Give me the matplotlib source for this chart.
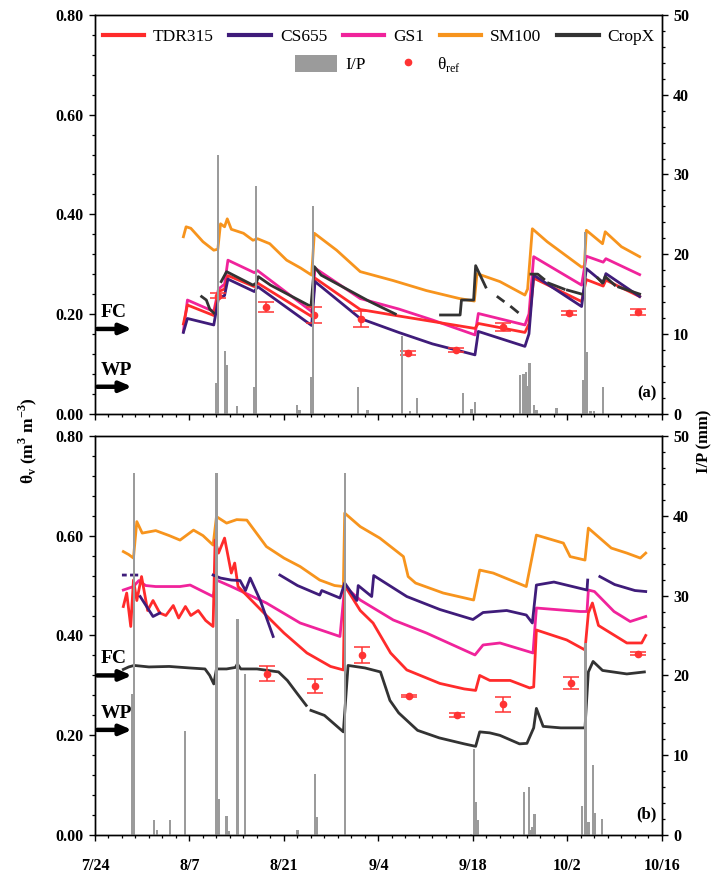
import numpy as np
import matplotlib
matplotlib.use("Agg")
import matplotlib.pyplot as plt
from matplotlib.ticker import MultipleLocator, FormatStrFormatter
from matplotlib.lines import Line2D
from matplotlib.patches import Patch

plt.rcParams["font.family"] = ["Liberation Serif", "DejaVu Serif"]

nan = np.nan

# x axis = days after 7/24
date_ticks = [0, 14, 28, 42, 56, 70, 84]
date_labels = ["7/24", "8/7", "8/21", "9/4", "9/18", "10/2", "10/16"]

# ── panel (a) ───────────────────────────────────────────────────────────────
sm100_a_day = [13.1, 13.5, 14.2, 16, 17.6, 18.2, 18.6, 19.2, 19.6, 20.2, 22, 23.4, 24.1,
               25.9, 28.4, 30.5, 32.1, 32.5, 35.8, 39.3, 44.2, 49.1, 54, 56.2, 56.6, 60,
               63.7, 64.1, 64.8, 67, 72.1, 72.5, 72.8, 75.2, 75.6, 78, 80.7]
sm100_a = [0.355, 0.375, 0.372, 0.345, 0.328, 0.33, 0.381, 0.375, 0.391, 0.37, 0.362, 0.348,
           0.351, 0.341, 0.308, 0.292, 0.278, 0.362, 0.328, 0.285, 0.267, 0.247, 0.231, 0.226,
           0.281, 0.265, 0.238, 0.25, 0.371, 0.345, 0.294, 0.296, 0.368, 0.341, 0.365, 0.335, 0.315]

sensor_a_day = [13.1, 13.7, 17.6, 18.3, 19.2, 19.7, 23.6, 24.1, 32.1, 32.6, 39.3, 45, 50,
                56.3, 56.8, 63.7, 64.3, 65, 72.1, 72.8, 75.3, 75.7, 80.7]
tdr_a = [0.18, 0.218, 0.197, 0.245, 0.25, 0.277, 0.255, 0.262, 0.195, 0.272, 0.209, 0.196,
         0.185, 0.171, 0.181, 0.163, 0.18, 0.272, 0.225, 0.269, 0.256, 0.268, 0.235]
gs1_a = [0.165, 0.228, 0.205, 0.25, 0.26, 0.308, 0.283, 0.287, 0.205, 0.292, 0.231, 0.21,
         0.188, 0.158, 0.201, 0.178, 0.2, 0.315, 0.258, 0.316, 0.304, 0.311, 0.279]
cs655_a = [0.163, 0.191, 0.178, 0.232, 0.237, 0.27, 0.245, 0.255, 0.177, 0.265, 0.191, 0.163,
           0.14, 0.118, 0.165, 0.135, 0.16, 0.278, 0.215, 0.291, 0.263, 0.281, 0.235]

cropx_a_day = [15.8, 16.5, 17.0, 17.6, nan, 18.7, 19.5, 23.4, 23.9, 24.2, 26, 32, 32.5, 33.5,
               40.7, 44.5, nan, 51.2, 54.1, 54.3, 56.1, 56.4, 57.9, nan, 59.7, 60.5, nan,
               61.7, 62.6, nan, 64.6, 65.6, 66.5, nan, 67.2, 69.5, nan, 70, 72.1, nan,
               74.5, 75.2, 75.6, 77, nan, 77.6, 80.7]
cropx_a = [0.235, 0.228, 0.21, 0.202, nan, 0.265, 0.285, 0.258, 0.262, 0.275, 0.258, 0.215,
           0.295, 0.278, 0.225, 0.2, nan, 0.198, 0.198, 0.228, 0.228, 0.297, 0.254, nan,
           0.234, 0.226, nan, 0.214, 0.204, nan, 0.28, 0.28, 0.27, nan, 0.262, 0.25, nan,
           0.248, 0.24, nan, 0.272, 0.262, 0.275, 0.258, nan, 0.254, 0.24]

ref_a_day = [18.3, 25.4, 32.4, 39.4, 46.4, 53.5, 60.4, 70.2, 80.4]
ref_a = [0.237, 0.214, 0.198, 0.19, 0.122, 0.128, 0.174, 0.202, 0.204]
ref_a_err = [0.005, 0.01, 0.016, 0.017, 0.004, 0.004, 0.008, 0.004, 0.006]

ip_a_day = [18.0, 18.2, 19.3, 19.6, 21.0, 23.6, 23.9, 29.9, 30.3, 32.0, 32.3, 39.0, 40.4,
            45.5, 46.7, 47.7, 54.5, 55.8, 56.3, 63.0, 63.5, 63.9, 64.2, 64.4, 65.0, 65.4,
            68.4, 72.4, 72.6, 72.9, 73.4, 73.9, 75.3]
ip_a = [3.9, 32.5, 7.8, 6.1, 0.9, 3.4, 28.6, 1.1, 0.4, 4.6, 26.0, 3.4, 0.5, 9.7, 0.3, 2.0,
        2.6, 0.6, 1.4, 4.8, 5.0, 5.2, 3.5, 6.4, 1.1, 0.5, 0.7, 4.2, 22.8, 7.7, 0.3, 0.3, 3.3]

# ── panel (b) ───────────────────────────────────────────────────────────────
sm100_b_day = [4.2, 5.0, 5.7, 6.2, 7.0, 9.0, 11.0, 12.6, 14.6, 16.0, 17.5, 18.0, 19.5, 21.0,
               22.5, 25.4, 28.0, 30.4, 33.3, 35.5, 36.8, 37.0, 39.3, 42.2, 45.7, 46.4, 47.5,
               51.6, 56.1, 57.0, 59.0, 63.9, 65.4, 69.4, 70.4, 72.6, 73.1, 74.8, 76.5, 78.8,
               80.8, 81.6]
sm100_b = [0.568, 0.562, 0.555, 0.628, 0.605, 0.61, 0.6, 0.591, 0.611, 0.6, 0.581, 0.638,
           0.625, 0.632, 0.631, 0.578, 0.555, 0.538, 0.511, 0.5, 0.498, 0.645, 0.618, 0.595,
           0.558, 0.518, 0.505, 0.485, 0.471, 0.531, 0.525, 0.498, 0.601, 0.585, 0.558, 0.551,
           0.615, 0.595, 0.575, 0.565, 0.555, 0.565]

gs1_b_day = [4.2, 5.7, 6.5, 7.5, 9.0, 12.6, 14.1, 17.5, 18.0, 20.2, 25.4, 30.4, 36.3, 37.0,
             39.3, 44.2, 49.1, 56.3, 57.5, 60, 64.9, 65.4, 71.9, 72.9, 73.1, 74.0, 76.9,
             79.3, 81.6]
gs1_b = [0.491, 0.498, 0.51, 0.5, 0.498, 0.498, 0.501, 0.478, 0.511, 0.498, 0.465, 0.425,
         0.398, 0.498, 0.471, 0.431, 0.405, 0.361, 0.381, 0.385, 0.365, 0.455, 0.448, 0.448,
         0.491, 0.488, 0.448, 0.428, 0.438]

cs655_b_day = [4.2, 4.5, nan, 5.4, 6.2, nan, 6.7, 8.6, 9.6, nan, 17.5, 18.6, 20.2, 21.5,
               22.3, 23.0, 24.5, 26.4, nan, 27.4, 30, 33.3, 33.6, 36.3, 37.0, 38.8, 39.0,
               41.0, 41.3, 46.2, 51.1, 56.0, 57.5, 61, 63.9, 64.8, 65.4, 68.0, 72.9, 73.0,
               nan, 74.8, 77, 80, 81.6]
cs655_b = [0.521, 0.521, nan, 0.521, 0.521, nan, 0.478, 0.438, 0.445, nan, 0.521, 0.515,
           0.511, 0.51, 0.49, 0.515, 0.47, 0.398, nan, 0.521, 0.5, 0.481, 0.49, 0.475, 0.505,
           0.47, 0.5, 0.478, 0.52, 0.478, 0.452, 0.432, 0.446, 0.45, 0.441, 0.425, 0.501,
           0.507, 0.491, 0.511, nan, 0.518, 0.502, 0.49, 0.488]

tdr_b_day = [4.2, 4.7, 5.3, 5.7, 6.2, 6.9, 7.8, 8.6, 9.6, 10.5, 11.6, 12.4, 13.4, 14.2, 15.3,
             16.4, 17.5, 17.8, 18.3, 19.2, 20.2, 20.7, 21.2, 22.5, 25.4, 28, 31.4, 34.9,
             36.8, 37.0, 39.3, 41.2, 43.8, 46.2, 51.1, 54.7, 56.4, 57.0, 58.5, 61.5, 64.4,
             65.0, 65.4, 69.9, 72.6, 73.1, 73.7, 74.6, 78.8, 81.0, 81.6]
tdr_b = [0.458, 0.485, 0.418, 0.511, 0.47, 0.518, 0.45, 0.47, 0.445, 0.44, 0.46, 0.435, 0.458,
         0.44, 0.45, 0.43, 0.418, 0.591, 0.565, 0.595, 0.525, 0.545, 0.498, 0.48, 0.44, 0.405,
         0.365, 0.338, 0.331, 0.5, 0.45, 0.425, 0.365, 0.331, 0.304, 0.293, 0.29, 0.32, 0.31,
         0.31, 0.295, 0.297, 0.411, 0.391, 0.371, 0.445, 0.465, 0.42, 0.385, 0.385, 0.40]

cropx_b_day = [4.2, 5.0, 5.8, 8, 11, 14, 16.3, 17.0, 17.6, 18.0, 19.5, 20.8, 21.1, 21.6, 24,
               27.2, 28.5, 30.0, 31.3, nan, 32.0, 34, 36.8, 37.5, 40, 42.3, 43.7, 45, 47.8,
               51, 54.7, 56.4, 57.0, 58.5, 60.0, 62.9, 64.0, 65.0, 65.4, 66.4, 69, 72.6,
               73.1, 73.8, 75.2, 78.8, 81.4]
cropx_b = [0.332, 0.337, 0.34, 0.337, 0.338, 0.335, 0.333, 0.32, 0.303, 0.333, 0.333, 0.336,
           0.343, 0.333, 0.333, 0.327, 0.31, 0.283, 0.26, nan, 0.25, 0.24, 0.207, 0.34, 0.335,
           0.327, 0.27, 0.245, 0.21, 0.195, 0.183, 0.178, 0.207, 0.205, 0.2, 0.183, 0.184,
           0.215, 0.254, 0.218, 0.215, 0.215, 0.327, 0.348, 0.33, 0.323, 0.327]

ref_b_day = [25.5, 32.6, 39.6, 46.6, 53.6, 60.5, 70.5, 80.4]
ref_b = [0.323, 0.298, 0.36, 0.279, 0.24, 0.262, 0.305, 0.363]
ref_b_err = [0.015, 0.014, 0.016, 0.002, 0.004, 0.015, 0.012, 0.003]

ip_b_day = [5.5, 5.8, 8.7, 9.2, 11.1, 13.3, 18.0, 18.3, 19.5, 19.9, 21.1, 22.2, 30.0, 32.6,
            32.8, 37.0, 55.7, 56.2, 56.4, 56.7, 63.6, 64.3, 64.6, 64.8, 65.1, 72.2, 72.7,
            73.1, 73.8, 74.1, 75.1]
ip_b = [17.7, 45.3, 1.9, 0.6, 1.9, 13.0, 45.3, 4.5, 2.4, 0.5, 27.0, 20.2, 0.6, 7.7, 2.3,
        45.3, 0.2, 10.8, 4.2, 1.9, 5.4, 6.0, 0.6, 1.0, 2.7, 3.7, 24.0, 1.6, 8.8, 2.8, 2.0]

# FC / WP levels per panel
fc_wp = {"a": (0.17, 0.054), "b": (0.32, 0.211)}

C_TDR, C_CS, C_GS, C_SM, C_CX = "#ff2b2b", "#3f1c7a", "#f0239b", "#f7941d", "#333333"
C_REF, C_IP = "#ff3333", "#9b9b9b"
LW = 2.0
TICK_FONT = dict(fontsize=11.5, fontweight="bold")


def style_axes(ax, axr, show_x):
    ax.set_xlim(0, 84)
    ax.set_ylim(0, 0.8)
    axr.set_ylim(0, 50)
    ax.xaxis.set_major_locator(MultipleLocator(14))
    ax.xaxis.set_minor_locator(MultipleLocator(2))
    ax.yaxis.set_major_locator(MultipleLocator(0.2))
    ax.yaxis.set_minor_locator(MultipleLocator(0.04))
    ax.yaxis.set_major_formatter(FormatStrFormatter("%.2f"))
    axr.yaxis.set_major_locator(MultipleLocator(10))
    axr.yaxis.set_minor_locator(MultipleLocator(2))
    for a in (ax, axr):
        a.tick_params(which="major", direction="out", length=4.5, width=1.0)
        a.tick_params(which="minor", direction="out", length=2.5, width=0.9)
    ax.set_xticks(date_ticks)
    if show_x:
        ax.set_xticklabels(date_labels, **TICK_FONT)
        ax.tick_params(axis="x", pad=12)
    else:
        ax.set_xticklabels([])
    for lab in ax.get_yticklabels() + axr.get_yticklabels():
        lab.set_fontsize(11.5)
        lab.set_fontweight("bold")
    for a in (ax, axr):
        for sp in a.spines.values():
            sp.set_linewidth(1.0)


def draw_panel(ax, tag, sm_d, sm, tdr_d, tdr, gs_d, gs, cs_d, cs, cx_d, cx,
               ref_d, ref, ref_e, ip_d, ip):
    ax.plot(sm_d, sm, color=C_SM, lw=LW)
    ax.plot(gs_d, gs, color=C_GS, lw=LW)
    ax.plot(tdr_d, tdr, color=C_TDR, lw=LW)
    ax.plot(cs_d, cs, color=C_CS, lw=LW)
    ax.plot(cx_d, cx, color=C_CX, lw=LW)
    ax.errorbar(ref_d, ref, yerr=ref_e, fmt="o", color=C_REF, ms=4.5,
                capsize=6, elinewidth=1.1, capthick=1.1, zorder=5)
    axr = ax.twinx()
    axr.bar(ip_d, ip, width=0.35, color=C_IP, zorder=1)

    fc, wp = fc_wp[tag]
    for level, name in ((fc, "FC"), (wp, "WP")):
        ax.annotate("", xy=(5.9, level), xytext=(-0.1, level),
                    arrowprops=dict(arrowstyle="-|>,head_length=0.7,head_width=0.3",
                                    lw=3.2, color="black"),
                    annotation_clip=False)
        ax.text(0.9, level + 0.033, name, fontsize=14, fontweight="bold", va="center")
    axr.text(83.2, 2.6, f"({tag})", fontsize=12, fontweight="bold", ha="right", va="center")
    return axr


fig = plt.figure(figsize=(7.25, 8.82), dpi=100)
ax_a = fig.add_axes([0.131, 0.531, 0.782, 0.452])
ax_b = fig.add_axes([0.131, 0.053, 0.782, 0.453])

axr_a = draw_panel(ax_a, "a", sm100_a_day, sm100_a, sensor_a_day, tdr_a, sensor_a_day, gs1_a,
                   sensor_a_day, cs655_a, cropx_a_day, cropx_a,
                   ref_a_day, ref_a, ref_a_err, ip_a_day, ip_a)
axr_b = draw_panel(ax_b, "b", sm100_b_day, sm100_b, tdr_b_day, tdr_b, gs1_b_day, gs1_b,
                   cs655_b_day, cs655_b, cropx_b_day, cropx_b,
                   ref_b_day, ref_b, ref_b_err, ip_b_day, ip_b)
style_axes(ax_a, axr_a, show_x=False)
style_axes(ax_b, axr_b, show_x=True)

# legend
line_handles = [Line2D([], [], color=c, lw=3) for c in (C_TDR, C_CS, C_GS, C_SM, C_CX)]
leg1 = axr_a.legend(line_handles, ["TDR315", "CS655", "GS1", "SM100", "CropX"], ncol=5,
                    loc="upper center", bbox_to_anchor=(0.5, 1.005), frameon=False,
                    fontsize=12.5, handlelength=2.4, columnspacing=0.9, handletextpad=0.5)
axr_a.add_artist(leg1)
extra = [Patch(facecolor=C_IP, edgecolor="none"),
         Line2D([], [], color=C_REF, marker="o", ls="none", ms=4.5)]
axr_a.legend(extra, ["I/P", r"θ$_\mathregular{ref}$"], ncol=2, loc="upper center",
             bbox_to_anchor=(0.5, 0.94), frameon=False, fontsize=12.5,
             handlelength=2.4, handleheight=1.2, columnspacing=1.2, handletextpad=0.5)

fig.text(0.038, 0.5, r"θ$_\mathregular{v}$ (m$^\mathregular{3}$ m$^\mathregular{-3}$)",
         rotation=90, ha="center", va="center", fontsize=12.5, fontweight="bold")
fig.text(0.972, 0.5, "I/P (mm)", rotation=90, ha="center", va="center",
         fontsize=12, fontweight="bold")

plt.savefig("out.png", dpi=100)
